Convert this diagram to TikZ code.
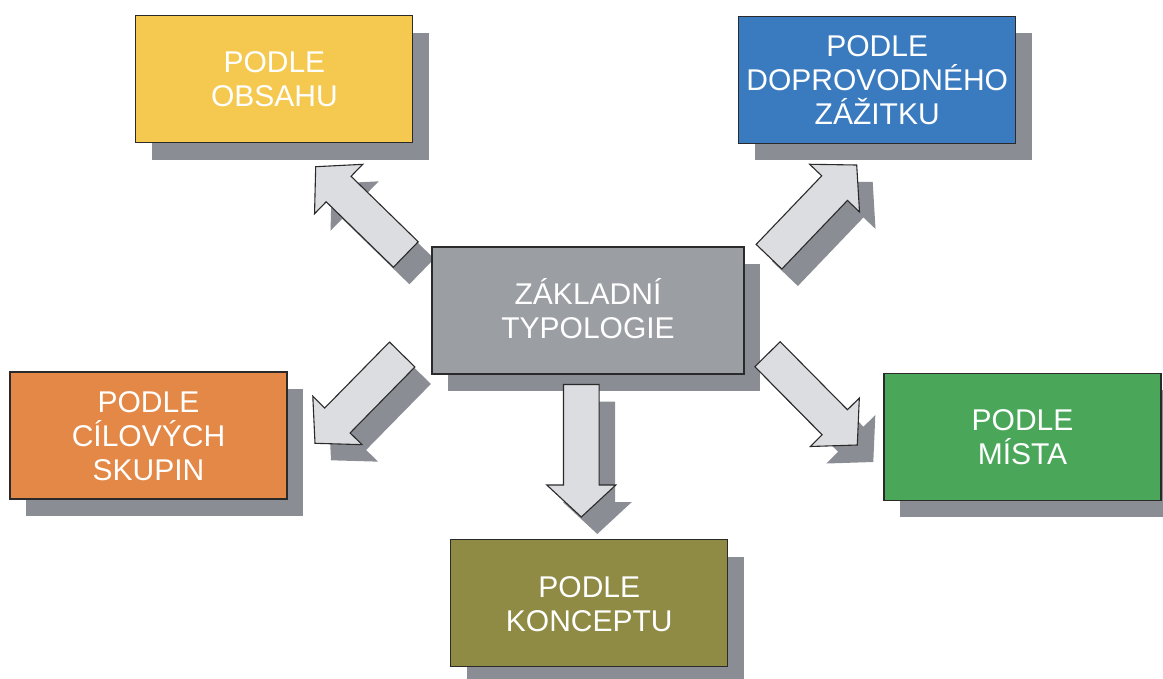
\documentclass[tikz,border=0pt]{standalone}
\usepackage{fontspec}
\setmainfont{Liberation Sans}
\usetikzlibrary{calc,shadows}
\definecolor{yellowc}{HTML}{F5C94F}
\definecolor{bluec}{HTML}{3A7BBF}
\definecolor{grayc}{HTML}{9B9EA3}
\definecolor{orangec}{HTML}{E38846}
\definecolor{greenc}{HTML}{4AA75A}
\definecolor{olivec}{HTML}{8F8B45}
\definecolor{shadowc}{HTML}{8A8D93}
\definecolor{arrowc}{HTML}{DCDDE0}
\definecolor{edgec}{HTML}{2A2A2A}
\pgfdeclarelayer{bg}
\pgfsetlayers{bg,main}
\tikzset{
  box/.style={draw=edgec, line width=1.1pt, minimum width=277pt, minimum height=127pt, inner sep=0pt,
    drop shadow={shadow xshift=16pt, shadow yshift=-17pt, fill=shadowc, opacity=1}},
  lbl/.style={text=white, font=\fontsize{30}{34}\selectfont, align=center, inner sep=0pt},
  arrowstyle/.style={fill=arrowc, draw=edgec, line width=1.1pt, line join=miter},
}
\newcommand\blockarrow[3]{%
  \coordinate (#1h) at ($(#3)!32pt!(#2)$);
  \coordinate (#1a) at ($(#2)!17.8pt!90:(#3)$);
  \coordinate (#1b) at ($(#1h)!17.8pt!90:(#3)$);
  \coordinate (#1c) at ($(#1h)!34.5pt!90:(#3)$);
  \coordinate (#1d) at ($(#1h)!34.5pt!-90:(#3)$);
  \coordinate (#1e) at ($(#1h)!17.8pt!-90:(#3)$);
  \coordinate (#1f) at ($(#2)!17.8pt!-90:(#3)$);
  \begin{pgfonlayer}{bg}
  \fill[shadowc, transform canvas={xshift=16pt,yshift=-17pt}] (#1a)--(#1b)--(#1c)--(#3)--(#1d)--(#1e)--(#1f)--cycle;
  \end{pgfonlayer}
}
\newcommand\blockarrowdraw[1]{%
  \draw[arrowstyle] (#1a)--(#1b)--(#1c)--(#1p)--(#1d)--(#1e)--(#1f)--cycle;
}
\begin{document}
\begin{tikzpicture}[x=1pt,y=-1pt]
\useasboundingbox (0,0) rectangle (1163,678);

% arrow end points
\coordinate (ult) at (405.8,254.5);  \coordinate (ulp) at (315.7,166.7);
\coordinate (urt) at (769.0,256.7);  \coordinate (urp) at (856.7,165.0);
\coordinate (dlt) at (402.2,354.5);  \coordinate (dlp) at (315.0,443.3);
\coordinate (dnt) at (581.3,384.5);  \coordinate (dnp) at (581.3,517.0);
\coordinate (drt) at (767.5,354.2);  \coordinate (drp) at (857.3,445.0);

\blockarrow{ul}{ult}{ulp}
\blockarrow{ur}{urt}{urp}
\blockarrow{dl}{dlt}{dlp}
\blockarrow{dn}{dnt}{dnp}
\blockarrow{dr}{drt}{drp}

% boxes
\node[box, fill=yellowc] (obsah) at (274.4,79.2) {};
\node[box, fill=bluec] (zazitek) at (877.2,79.7) {};
\node[box, fill=grayc, minimum width=312pt] (zaklad) at (588,310.5) {};
\node[box, fill=orangec] (cil) at (148.5,435.5) {};
\node[box, fill=greenc] (misto) at (1022.5,436.7) {};
\node[box, fill=olivec] (koncept) at (589.3,603.3) {};

\node[lbl] (tobsah) at ([yshift=-10.75pt]obsah.center) {\smash{PODLE}\\\smash{OBSAHU}};
\node[lbl] (tzazitek) at ([yshift=-10.75pt]zazitek.center) {\smash{PODLE}\\\smash{DOPROVODNÉHO}\\\smash{ZÁŽITKU}};
\node[lbl] (tzaklad) at ([yshift=-10.75pt]zaklad.center) {\smash{ZÁKLADNÍ}\\\smash{TYPOLOGIE}};
\node[lbl] (tcil) at ([yshift=-10.75pt]cil.center) {\smash{PODLE}\\\smash{CÍLOVÝCH}\\\smash{SKUPIN}};
\node[lbl] (tmisto) at ([yshift=-10.75pt]misto.center) {\smash{PODLE}\\\smash{MÍSTA}};
\node[lbl] (tkoncept) at ([yshift=-10.75pt]koncept.center) {\smash{PODLE}\\\smash{KONCEPTU}};

\blockarrowdraw{ul}
\blockarrowdraw{ur}
\blockarrowdraw{dl}
\blockarrowdraw{dn}
\blockarrowdraw{dr}
\end{tikzpicture}
\end{document}
